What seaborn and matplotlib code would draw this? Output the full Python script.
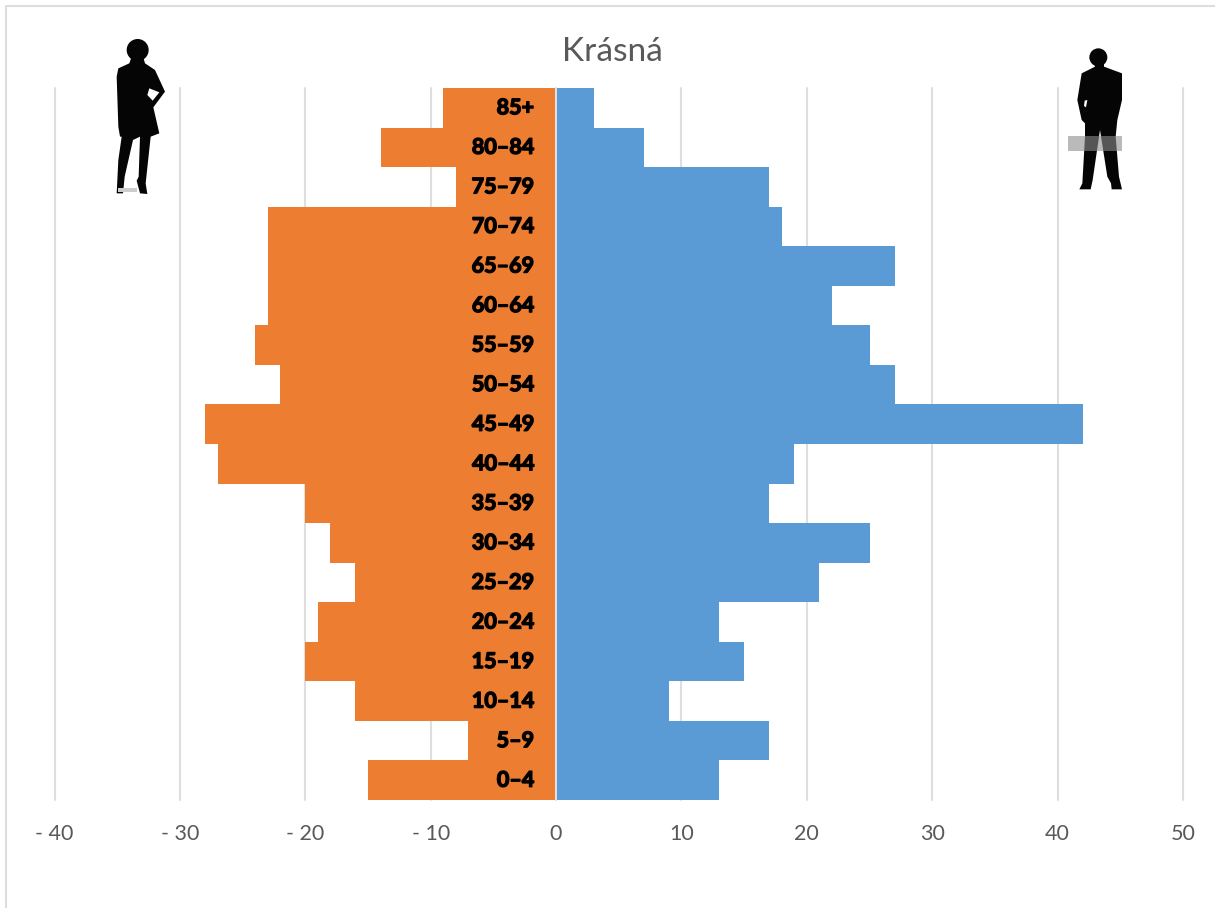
#!/usr/bin/env python3
import matplotlib
matplotlib.use("Agg")
import matplotlib.pyplot as plt
import matplotlib.patheffects as pe
from matplotlib.patches import Circle, Polygon, Rectangle
import pandas as pd
import seaborn as sns

ages = ["85+", "80–84", "75–79", "70–74", "65–69", "60–64", "55–59", "50–54", "45–49",
        "40–44", "35–39", "30–34", "25–29", "20–24", "15–19", "10–14", "5–9", "0–4"]
women = [-9, -14, -8, -23, -23, -23, -24, -22, -28, -27, -20, -18, -16, -19, -20, -16, -7, -15]
men = [3, 7, 17, 18, 27, 22, 25, 27, 42, 19, 17, 25, 21, 13, 15, 9, 17, 13]
x_ticks = [-40, -30, -20, -10, 0, 10, 20, 30, 40, 50]
x_labels = ["- 40", "- 30", "- 20", "- 10", "0", "10", "20", "30", "40", "50"]

W, H = 1215, 908
sns.set_theme(style="white")
plt.rcParams["font.family"] = ["Lato", "DejaVu Sans"]

df = pd.DataFrame({"age": ages, "women": women, "men": men})

fig = plt.figure(figsize=(W / 100, H / 100), dpi=100)
ax = fig.add_axes([54.5 / W, 1 - 800 / H, (1183 - 54.5) / W, (800 - 88) / H])

sns.barplot(data=df, y="age", x="women", color="#ED7D31", width=1, saturation=1, linewidth=0, ax=ax, zorder=2)
sns.barplot(data=df, y="age", x="men", color="#5B9BD5", width=1, saturation=1, linewidth=0, ax=ax, zorder=2)
# no seams between neighbouring bars
for bar in ax.patches:
    bar.set_antialiased(False)

ax.set_xlim(-40, 50)
ax.set_ylim(len(ages) - 0.5, -0.5)
ax.set_xticks(x_ticks, x_labels)
ax.set_yticks([])
ax.set_xlabel("")
ax.set_ylabel("")
ax.tick_params(axis="x", length=0, pad=17, labelsize=15.5, labelcolor="#595959")
sns.despine(ax=ax, left=True, top=True, right=True, bottom=True)
ax.set_axisbelow(True)
ax.grid(axis="x", color="#DEDEDE", lw=1.5)
for line in ax.get_xgridlines():
    line.set_clip_on(False)
ax.axvline(0, color="#E3E3E3", lw=1.4, zorder=3)

# age labels sit on the orange side, smeared bold like the original
for i, age in enumerate(ages):
    ax.text(-1.75, i, age, ha="right", va="center", fontsize=15.5, fontweight="bold", color="black",
            zorder=4, path_effects=[pe.withStroke(linewidth=1.0, foreground="black")])

fig.text(612 / W, 1 - 52 / H, "Krásná", ha="center", va="center", fontsize=24, color="#595959")

# overlay in pixel coordinates for chart border and silhouettes
ov = fig.add_axes([0, 0, 1, 1], zorder=5)
ov.set_xlim(0, W)
ov.set_ylim(H, 0)
ov.axis("off")
ov.patch.set_alpha(0)
ov.plot([6, 6, W], [H, 5.5, 5.5], color="#DEDEDE", lw=1.5)


def zoomed(points, x0, y0):
    return [(x0 + px / 3, y0 + py / 3) for px, py in points]


woman_body = [(124, 112), (118, 130), (85, 145), (80, 170), (85, 320), (90, 350), (95, 350), (85, 420), (80, 520),
              (99, 520), (104, 470), (129, 360), (150, 350), (146, 470), (140, 482), (150, 520),
              (172, 522), (167, 490), (182, 350), (208, 340), (190, 262), (225, 215), (195, 150), (165, 130), (160, 112)]
woman_gap = [(178, 205), (208, 217), (188, 242), (172, 225)]
ov.add_patch(Polygon(zoomed(woman_body, 90, 20), color="#050505", lw=0))
ov.add_patch(Polygon(zoomed(woman_gap, 90, 20), color="white", lw=0))
ov.add_patch(Circle((90 + 143 / 3, 20 + 90 / 3), 33 / 3, color="#050505", lw=0))
ov.add_patch(Rectangle((90 + 85 / 3, 20 + 503 / 3), 55 / 3, 14 / 3, color="#CCCCCC", lw=0))

man_body = [(130, 95), (135, 110), (95, 130), (82, 210), (95, 270), (105, 280), (105, 320), (97, 460), (88, 478),
            (122, 478), (128, 450), (150, 300), (172, 440), (183, 460), (185, 478), (216, 478),
            (207, 440), (197, 320), (202, 270), (216, 210), (216, 130), (162, 110), (162, 95)]
man_gap = [(104, 212), (112, 210), (108, 232), (102, 228)]
ov.add_patch(Polygon(zoomed(man_body, 1050, 30), color="#050505", lw=0))
ov.add_patch(Polygon(zoomed(man_gap, 1050, 30), color="white", lw=0))
ov.add_patch(Circle((1050 + 145 / 3, 30 + 82 / 3), 27 / 3, color="#050505", lw=0))
ov.add_patch(Rectangle((1050 + 55 / 3, 30 + 318 / 3), 161 / 3, 46 / 3, color="#8D8D8D", alpha=0.6, lw=0))

fig.savefig("out.png", dpi=100, facecolor="white")
